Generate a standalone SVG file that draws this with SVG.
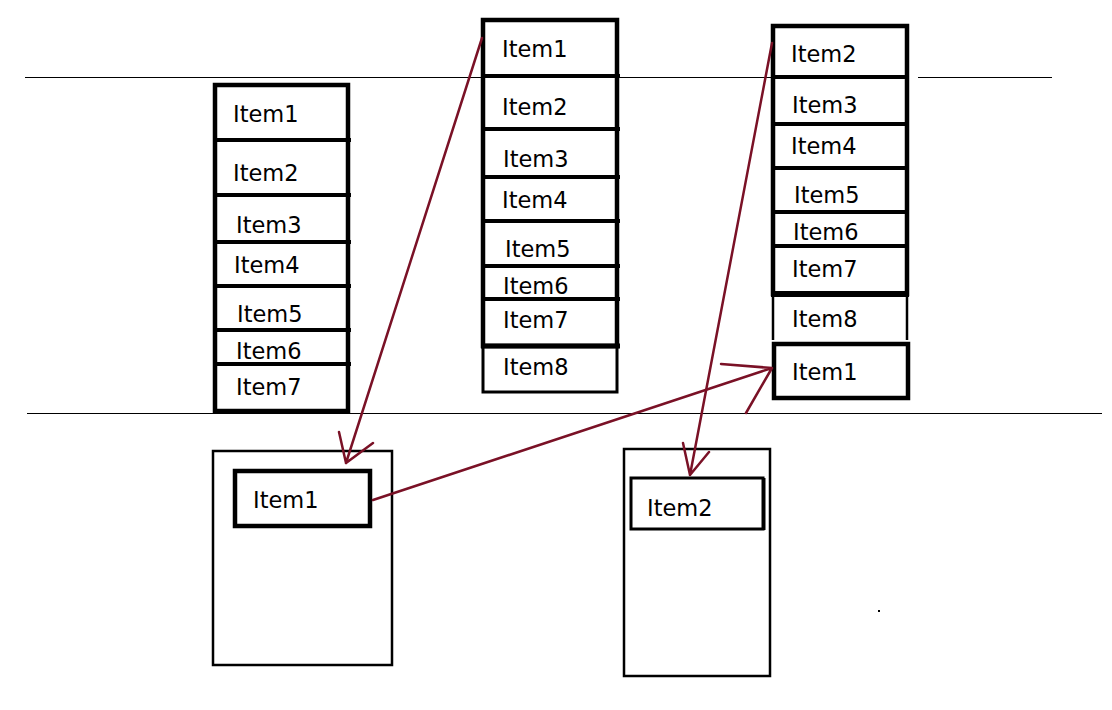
<svg xmlns="http://www.w3.org/2000/svg" width="1112" height="710" viewBox="0 0 1112 710">
<style>
text{font-family:"DejaVu Sans","Liberation Sans",sans-serif;font-size:22.5px;fill:#000}
.thick{fill:none;stroke:#000;stroke-width:4.5}
.div{stroke:#000;stroke-width:4}
.thin{fill:none;stroke:#000;stroke-width:2.5}
.rule{stroke:#000;stroke-width:1}
.arr{fill:none;stroke:#7a1126;stroke-width:2.5;stroke-linecap:round;stroke-linejoin:round}
</style>
<rect width="1112" height="710" fill="#fff"/>
<g id="guides">
<line class="rule" x1="25" y1="77.5" x2="907" y2="77.5"/>
<line class="rule" x1="918" y1="77.5" x2="1052" y2="77.5"/>
<line class="rule" x1="27" y1="413.5" x2="1102" y2="413.5"/>
</g>
<g id="stack-left">
<rect class="thick" x="215" y="85" width="133" height="326"/>
<line class="div" x1="213" y1="140" x2="351" y2="140"/>
<line class="div" x1="213" y1="195" x2="351" y2="195"/>
<line class="div" x1="213" y1="242" x2="351" y2="242"/>
<line class="div" x1="213" y1="286" x2="351" y2="286"/>
<line class="div" x1="213" y1="330" x2="351" y2="330"/>
<line class="div" x1="213" y1="364" x2="351" y2="364"/>
<g id="L1"><text x="233" y="122">Item1</text></g>
<g id="L2"><text x="233" y="181">Item2</text></g>
<g id="L3"><text x="236" y="233">Item3</text></g>
<g id="L4"><text x="234" y="273">Item4</text></g>
<g id="L5"><text x="237" y="322">Item5</text></g>
<g id="L6"><text x="236" y="359">Item6</text></g>
<g id="L7"><text x="236" y="395">Item7</text></g>
</g>
<g id="stack-middle">
<rect class="thick" x="483" y="20" width="134" height="326"/>
<rect fill="none" stroke="#000" stroke-width="3" x="483" y="346" width="134" height="46"/>
<line class="div" x1="481" y1="76" x2="620" y2="76"/>
<line class="div" x1="481" y1="129" x2="620" y2="129"/>
<line class="div" x1="481" y1="177" x2="620" y2="177"/>
<line class="div" x1="481" y1="221" x2="620" y2="221"/>
<line class="div" x1="481" y1="266" x2="620" y2="266"/>
<line class="div" x1="481" y1="299" x2="620" y2="299"/>
<line stroke="#000" stroke-width="5" x1="481" y1="346" x2="620" y2="346"/>
<g id="M1"><text x="502" y="57">Item1</text></g>
<g id="M2"><text x="502" y="115">Item2</text></g>
<g id="M3"><text x="503" y="167">Item3</text></g>
<g id="M4"><text x="502" y="208">Item4</text></g>
<g id="M5"><text x="505" y="257">Item5</text></g>
<g id="M6"><text x="503" y="294">Item6</text></g>
<g id="M7"><text x="503" y="328">Item7</text></g>
<g id="M8"><text x="503" y="375">Item8</text></g>
</g>
<g id="stack-right">
<rect class="thick" x="773" y="26" width="134" height="268"/>
<line stroke="#000" stroke-width="2.5" x1="773" y1="294" x2="773" y2="340"/>
<line stroke="#000" stroke-width="2.5" x1="907" y1="294" x2="907" y2="340"/>
<line class="div" x1="771" y1="77" x2="909" y2="77"/>
<line class="div" x1="771" y1="124" x2="909" y2="124"/>
<line class="div" x1="771" y1="168" x2="909" y2="168"/>
<line class="div" x1="771" y1="212" x2="909" y2="212"/>
<line class="div" x1="771" y1="246" x2="909" y2="246"/>
<line stroke="#000" stroke-width="6" x1="771" y1="294" x2="909" y2="294"/>
<g id="R2"><text x="791" y="62">Item2</text></g>
<g id="R3"><text x="792" y="113">Item3</text></g>
<g id="R4"><text x="791" y="154">Item4</text></g>
<g id="R5"><text x="794" y="203">Item5</text></g>
<g id="R6"><text x="793" y="240">Item6</text></g>
<g id="R7"><text x="792" y="277">Item7</text></g>
<g id="R8"><text x="792" y="327">Item8</text></g>
<g id="R1"><rect class="thick" x="774" y="344" width="134" height="54"/><text x="792" y="380">Item1</text></g>
</g>
<g id="box-left">
<rect class="thin" x="213" y="451" width="179" height="214"/>
<g id="BL1"><rect class="thick" x="235" y="471" width="135" height="55"/><text x="253" y="508">Item1</text></g>
</g>
<g id="box-right">
<rect class="thin" x="624" y="449" width="146" height="227"/>
<g id="BR2"><rect fill="none" stroke="#000" stroke-width="3" x="631" y="478" width="132" height="51"/><line stroke="#000" stroke-width="3" x1="764" y1="478" x2="764" y2="530"/><text x="647" y="516">Item2</text></g>
</g>
<g id="connectors">
<path class="arr" d="M482,38 L346,463 M339,432 L346,463 L373,443"/>
<path class="arr" d="M373,500 L772,368 M721,364 L772,368 L746,413"/>
<path class="arr" d="M772,43 L690,475 M683,443 L690,475 L709,452"/>
</g>
<rect x="878" y="610" width="2" height="2" fill="#000"/>
</svg>
